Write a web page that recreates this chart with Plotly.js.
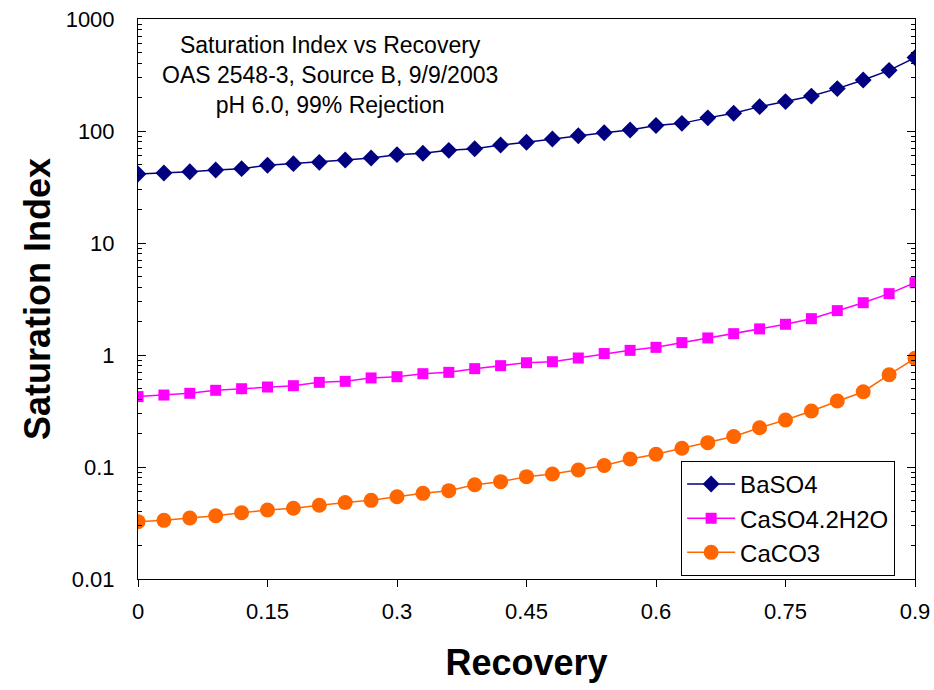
<!DOCTYPE html>
<html>
<head>
<meta charset="utf-8">
<script src="https://cdn.plot.ly/plotly-3.0.1.min.js"></script>
<style>html,body{margin:0;padding:0;background:#fff;}#chart{width:934px;height:690px;}</style>
</head>
<body>
<div id="chart"></div>
<script>
const recovery = [0,0.03,0.06,0.09,0.12,0.15,0.18,0.21,0.24,0.27,0.3,0.33,0.36,0.39,0.42,0.45,0.48,0.51,0.54,0.57,0.6,0.63,0.66,0.69,0.72,0.75,0.78,0.81,0.84,0.87,0.9];
const baso4 = [41.3,42.2,43.3,44.9,46.1,49.4,51.1,52.5,55.1,57.4,61.5,63.2,67.2,69.5,75,79.3,84.9,90.8,96.6,102,112,117,131,144,165,183,205,239,285,348,452];
const caso4 = [0.425,0.439,0.455,0.484,0.500,0.518,0.532,0.570,0.582,0.624,0.640,0.681,0.700,0.755,0.803,0.853,0.871,0.940,1.03,1.10,1.17,1.29,1.42,1.55,1.71,1.88,2.11,2.49,2.93,3.53,4.42];
const caco3 = [0.0325,0.0334,0.0351,0.0367,0.0391,0.0413,0.0428,0.0455,0.0481,0.0504,0.0543,0.0582,0.0615,0.0695,0.0740,0.082,0.0865,0.094,0.103,0.118,0.130,0.147,0.165,0.187,0.224,0.263,0.316,0.388,0.470,0.667,0.933];
const seriesNames = ["BaSO4","CaSO4.2H2O","CaCO3"];
const xTicks = [0,0.15,0.3,0.45,0.6,0.75,0.9];
const xTickText = ["0","0.15","0.3","0.45","0.6","0.75","0.9"];
const yTicks = [0.01,0.1,1,10,100,1000];
const yTickText = ["0.01","0.1","1","10","100","1000"];

const F = "Arial, 'Liberation Sans', sans-serif";
const traces = [
  {x: recovery, y: baso4, name: seriesNames[0], mode: "lines+markers",
   line: {color: "#000080", width: 1.5}, marker: {symbol: "diamond", size: 13, color: "#000080"}},
  {x: recovery, y: caso4, name: seriesNames[1], mode: "lines+markers",
   line: {color: "#FF00FF", width: 1.5}, marker: {symbol: "square", size: 11, color: "#FF00FF"}},
  {x: recovery, y: caco3, name: seriesNames[2], mode: "lines+markers",
   line: {color: "#FF6600", width: 1.5}, marker: {symbol: "circle", size: 15, color: "#FF6600"}}
];
const layout = {
  width: 934, height: 690,
  margin: {l: 138, r: 19, t: 19, b: 111},
  paper_bgcolor: "#fff", plot_bgcolor: "#fff",
  font: {family: F, color: "#000", size: 22},
  showlegend: true,
  legend: {x: 0.699, y: 0.211, xanchor: "left", yanchor: "top",
    bordercolor: "#000", borderwidth: 1, bgcolor: "#fff", itemwidth: 48,
    font: {family: F, size: 24, color: "#000"}},
  xaxis: {range: [0, 0.9], tickvals: xTicks, ticktext: xTickText,
    showline: true, linecolor: "#000", linewidth: 1, mirror: true,
    ticks: "outside", ticklen: 7, tickcolor: "#000", showgrid: false, zeroline: false,
    ticklabelstandoff: 6,
    tickfont: {family: F, size: 22},
    title: {text: "<b>Recovery</b>", font: {family: F, size: 36}, standoff: 26}},
  yaxis: {type: "log", range: [-2, 3], tickvals: yTicks, ticktext: yTickText,
    showline: true, linecolor: "#000", linewidth: 1, mirror: "ticks",
    ticks: "inside", ticklen: 8, tickcolor: "#000", showgrid: false, zeroline: false,
    ticklabelstandoff: 18,
    minor: {ticks: "inside", ticklen: 4, tickcolor: "#000", dtick: "D1", showgrid: false},
    tickfont: {family: F, size: 22},
    title: {text: "<b>Saturation Index</b>", font: {family: F, size: 36}, standoff: 4}},
  annotations: [{
    xref: "paper", yref: "paper", x: (330-138)/777, y: (579-75)/560,
    xanchor: "center", yanchor: "middle", showarrow: false, align: "center",
    text: "Saturation Index vs Recovery<br>OAS 2548-3, Source B, 9/9/2003<br>pH 6.0, 99% Rejection",
    font: {family: F, size: 23, color: "#000"}
  }]
};
Plotly.newPlot("chart", traces, layout, {displayModeBar: false, staticPlot: true});
</script>
</body>
</html>
